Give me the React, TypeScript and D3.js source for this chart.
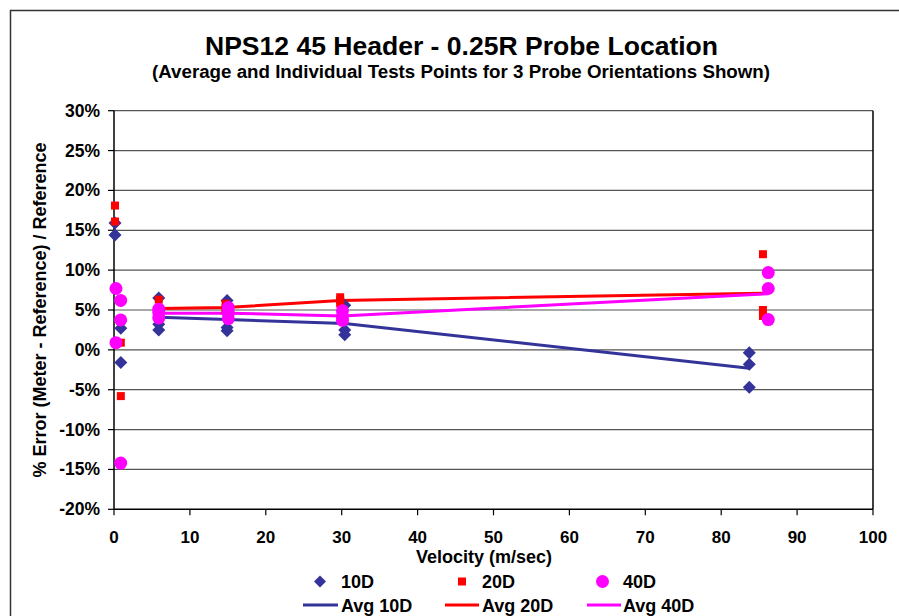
import React from "react";
import * as d3 from "d3";

const xTicks = [0, 10, 20, 30, 40, 50, 60, 70, 80, 90, 100];
const yTicks = [-20, -15, -10, -5, 0, 5, 10, 15, 20, 25, 30];

const vel10 = [0.13, 0.13, 0.9, 0.9, 5.9, 5.9, 5.9, 14.9, 14.9, 14.9, 30.4, 30.4, 30.4, 83.7, 83.7, 83.7];
const err10 = [15.9, 14.4, 2.7, -1.6, 6.5, 3.2, 2.5, 6.2, 2.8, 2.4, 5.6, 2.5, 1.9, -0.35, -1.8, -4.7];

const vel20 = [0.13, 0.13, 0.9, 0.9, 5.9, 5.9, 5.9, 14.7, 14.7, 14.7, 29.8, 29.8, 29.8, 85.5, 85.5, 85.5];
const err20 = [18.1, 16.1, 0.9, -5.8, 6.3, 4.9, 4.4, 5.8, 5.2, 4.9, 6.6, 6.2, 5.8, 12.0, 5.0, 4.25];

const vel40 = [0.26, 0.88, 0.88, 0.26, 0.88, 5.9, 5.9, 5.9, 15.06, 15.06, 15.06, 30.1, 30.1, 30.1, 86.2, 86.2, 86.2];
const err40 = [7.7, 6.2, 3.75, 0.9, -14.2, 5.1, 4.7, 4.0, 5.3, 4.6, 3.9, 4.9, 4.2, 3.7, 9.7, 7.7, 3.8];

const avgVel10 = [5.9, 14.9, 30.4, 83.7];
const avg10 = [4.1, 3.8, 3.3, -2.3];
const avgVel20 = [5.9, 14.7, 29.8, 85.5];
const avg20 = [5.2, 5.3, 6.2, 7.1];
const avgVel40 = [5.9, 15.06, 30.1, 86.2];
const avg40 = [4.6, 4.6, 4.25, 7.05];

const C10 = "#333399";
const C20 = "#FF0000";
const C40 = "#FF00FF";
const FONT = "'Liberation Sans', Arial, sans-serif";

export default function App() {
  const W = 899, H = 616;
  const x = d3.scaleLinear().domain([0, 100]).range([114, 873]);
  const y = d3.scaleLinear().domain([-20, 30]).range([509.3, 110.7]);
  const line = d3.line<[number, number]>().x(d => x(d[0])).y(d => y(d[1]));
  const zip = (a: number[], b: number[]) => a.map((v, i) => [v, b[i]] as [number, number]);
  const diamondPath = (s: number) => `M0,${-s}L${s},0L0,${s}L${-s},0Z`;

  return (
    <svg width={W} height={H} style={{ display: "block", position: "absolute", left: 0, top: 0 }} fontFamily={FONT}>
      <rect x={0} y={0} width={W} height={H} fill="#fff" />
      <rect x={10.5} y={10.5} width={W + 10} height={H + 10} fill="none" stroke="#333" strokeWidth={1.5} />
      <text x={461.5} y={55} textAnchor="middle" fontSize={26.5} fontWeight="bold" textLength={513} lengthAdjust="spacingAndGlyphs">NPS12 45 Header - 0.25R Probe Location</text>
      <text x={461} y={78} textAnchor="middle" fontSize={17.5} fontWeight="bold" textLength={618} lengthAdjust="spacingAndGlyphs">(Average and Individual Tests Points for 3 Probe Orientations Shown)</text>

      {/* gridlines */}
      {yTicks.filter(t => t > -20).map(t => (
        <line key={"g" + t} x1={x(0)} x2={x(100)} y1={y(t)} y2={y(t)} stroke="#555" strokeWidth={1.2} />
      ))}
      {/* axes */}
      <line x1={x(0)} x2={x(0)} y1={y(30)} y2={y(-20)} stroke="#000" strokeWidth={1.5} />
      <line x1={x(100)} x2={x(100)} y1={y(30)} y2={y(-20)} stroke="#000" strokeWidth={1.5} />
      <line x1={x(0)} x2={x(100)} y1={y(-20)} y2={y(-20)} stroke="#000" strokeWidth={1.5} />
      {yTicks.map(t => (
        <g key={"y" + t}>
          <line x1={x(0) - 6} x2={x(0)} y1={y(t)} y2={y(t)} stroke="#000" strokeWidth={1.2} />
          <text x={100} y={y(t) + 6} textAnchor="end" fontSize={17.5} fontWeight="bold">{t + "%"}</text>
        </g>
      ))}
      {xTicks.map(t => (
        <g key={"x" + t}>
          <line x1={x(t)} x2={x(t)} y1={y(-20)} y2={y(-20) + 6} stroke="#000" strokeWidth={1.2} />
          <text x={x(t)} y={543} textAnchor="middle" fontSize={17} fontWeight="bold">{t}</text>
        </g>
      ))}
      <text x={484} y={563} textAnchor="middle" fontSize={18} fontWeight="bold">Velocity (m/sec)</text>
      <text transform={`translate(46,310) rotate(-90)`} textAnchor="middle" fontSize={18} fontWeight="bold">% Error (Meter - Reference) / Reference</text>

      {/* average lines */}
      <path d={line(zip(avgVel10, avg10)) || ""} fill="none" stroke={C10} strokeWidth={3} />
      <path d={line(zip(avgVel20, avg20)) || ""} fill="none" stroke={C20} strokeWidth={3} />
      <path d={line(zip(avgVel40, avg40)) || ""} fill="none" stroke={C40} strokeWidth={3} />

      {/* markers */}
      {vel10.map((v, i) => (
        <path key={"d" + i} d={diamondPath(6.5)} transform={`translate(${x(v)},${y(err10[i])})`} fill={C10} />
      ))}
      {vel20.map((v, i) => (
        <rect key={"s" + i} x={x(v) - 4} y={y(err20[i]) - 4} width={8} height={8} fill={C20} />
      ))}
      {vel40.map((v, i) => (
        <circle key={"c" + i} cx={x(v)} cy={y(err40[i])} r={6.5} fill={C40} />
      ))}

      {/* legend */}
      <path d={diamondPath(6)} transform="translate(320,581.5)" fill={C10} />
      <text x={341} y={588} fontSize={18} fontWeight="bold">10D</text>
      <rect x={458} y={577.5} width={8} height={8} fill={C20} />
      <text x={482} y={588} fontSize={18} fontWeight="bold">20D</text>
      <circle cx={602.5} cy={581.5} r={6.5} fill={C40} />
      <text x={623} y={588} fontSize={18} fontWeight="bold">40D</text>

      <line x1={303} x2={338} y1={605} y2={605} stroke={C10} strokeWidth={3} />
      <text x={341} y={612} fontSize={18} fontWeight="bold">Avg 10D</text>
      <line x1={445} x2={479} y1={605} y2={605} stroke={C20} strokeWidth={3} />
      <text x={482} y={612} fontSize={18} fontWeight="bold">Avg 20D</text>
      <line x1={587} x2={621} y1={605} y2={605} stroke={C40} strokeWidth={3} />
      <text x={623} y={612} fontSize={18} fontWeight="bold">Avg 40D</text>
    </svg>
  );
}
